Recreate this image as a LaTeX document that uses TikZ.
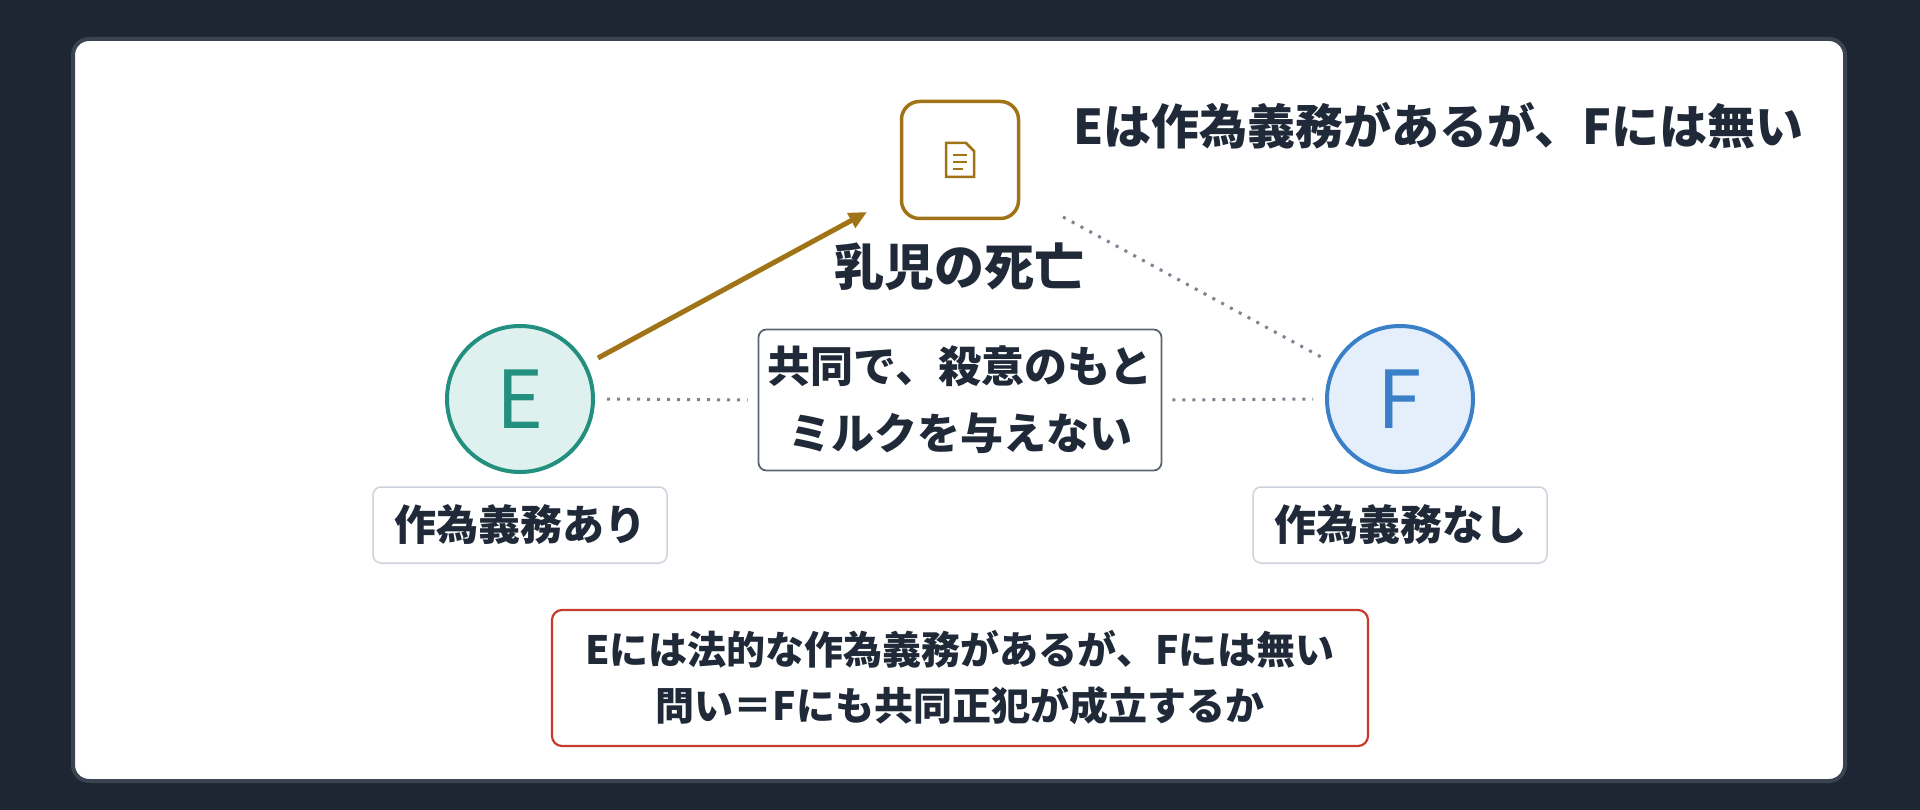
\documentclass[tikz,border=0pt]{standalone}
\usepackage{fontspec}
\setmainfont{Noto Sans CJK JP}
\usetikzlibrary{arrows.meta}
\definecolor{bg}{HTML}{1E2633}
\definecolor{cardb}{HTML}{3A4350}
\definecolor{brown}{HTML}{A07416}
\definecolor{teal}{HTML}{23907F}
\definecolor{tealf}{HTML}{DFF1EE}
\definecolor{blue}{HTML}{3A80C8}
\definecolor{bluef}{HTML}{E5EFFB}
\definecolor{txt}{HTML}{1F2937}
\definecolor{gb}{HTML}{5B6673}
\definecolor{lb}{HTML}{CDD3DC}
\definecolor{red}{HTML}{C83C2E}
\begin{document}
\begin{tikzpicture}[x=1pt,y=-1pt,
  lbl/.style={font=\fontsize{42}{48}\selectfont\bfseries,text=txt},
  dots/.style={draw=gb!80,line width=3pt,dash pattern=on 3pt off 7pt},
  circ/.style={circle,minimum size=146pt,line width=4pt,font=\fontsize{80}{80}\selectfont},
  tag/.style={draw=lb,line width=1.5pt,rounded corners=8pt,fill=white,minimum width=294pt,minimum height=76pt,lbl}]
\fill[bg] (0,0) rectangle (1920,810);
\useasboundingbox (0,0) rectangle (1920,810);
\draw[cardb,fill=white,line width=4pt,rounded corners=16pt] (73,39) rectangle (1845,781);
\node[draw=brown,line width=3.5pt,rounded corners=18pt,minimum size=117pt,fill=white] (doc) at (960,160) {};
\draw[brown,line width=2.5pt] (946,143)--(966,143)--(974,151)--(974,177)--(946,177)--cycle;
\draw[brown,line width=2pt] (953,155)--(967,155) (953,162)--(967,162) (953,169)--(963,169);
\node[lbl,font=\fontsize{50}{56}\selectfont\bfseries] (dl) at (959,267) {乳児の死亡};
\node[lbl,anchor=west,font=\fontsize{48}{54}\selectfont\bfseries] (title) at (1070,126) {Eは作為義務があるが、Fには無い};
\node[circ,draw=teal,fill=tealf,text=teal] (E) at (520,399) {E};
\node[circ,draw=blue,fill=bluef,text=blue] (F) at (1400,399) {F};
\node[draw=gb,line width=1.8pt,rounded corners=8pt,fill=white,minimum width=403pt,minimum height=141pt,align=center,lbl,font=\fontsize{43}{67}\selectfont\bfseries] (act) at (960,400) {共同で、殺意のもと\\ミルクを与えない};
\node[tag] (ta) at (520,525) {作為義務あり};
\node[tag] (tn) at (1400,525) {作為義務なし};
\node[draw=red,line width=2.2pt,rounded corners=10pt,fill=white,minimum width=816pt,minimum height=136pt,align=center,lbl,font=\fontsize{39}{56}\selectfont\bfseries] (q) at (960,678) {Eには法的な作為義務があるが、Fには無い\\問い＝Fにも共同正犯が成立するか};
\draw[dots] (E.east)++(12,0) -- ([xshift=-10pt]act.west);
\draw[dots] ([xshift=10pt]act.east) -- ([xshift=-12pt]F.west);
\draw[dots] (1063,217) -- (1323,358);
\draw[brown,line width=5pt,-{Triangle[length=18pt,width=16pt]}] (598,358) -- (867,212);
\end{tikzpicture}
\end{document}
